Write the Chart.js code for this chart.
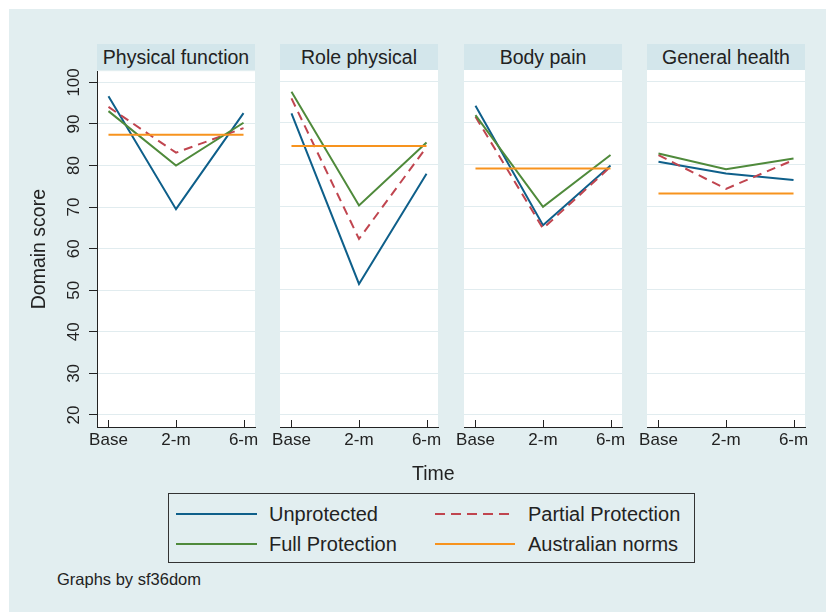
<!DOCTYPE html>
<html>
<head>
<meta charset="utf-8">
<script src="https://cdn.jsdelivr.net/npm/chart.js@4.4.1/dist/chart.umd.min.js"></script>
<style>
  body { margin: 0; background: #fff; font-family: "Liberation Sans", Arial, sans-serif; color: #222; }
  #page { position: absolute; left: 9px; top: 9px; width: 817px; height: 603px; background: #e2eef0; }
  canvas { position: absolute; }
  .strip { position: absolute; top: 44px; height: 26px; line-height: 26px; background: #d3e6eb;
           text-align: center; font-size: 19.5px; }
  .txt { position: absolute; white-space: nowrap; }
  #legend { position: absolute; left: 168px; top: 493px; width: 525px; height: 68px; border: 1px solid #333; }
  .lgline { position: absolute; height: 0; border-top: 2px solid; }
  .lgtxt { position: absolute; font-size: 20px; line-height: 22px; white-space: nowrap; }
</style>
</head>
<body>
<div id="page"></div>

<script>
// ===============================
// DATA
// ===============================
const timeLabels = ["Base", "2-m", "6-m"];
const domains = ["Physical function", "Role physical", "Body pain", "General health"];

// one row per domain: Base, 2-m, 6-m
const unprotected = [[96.7, 69.5, 92.6], [92.3, 51.4, 77.8], [94.1, 65.5, 79.8], [80.7, 77.9, 76.3]];
const partial     = [[94.1, 83.1, 89.0], [95.9, 62.2, 84.2], [91.5, 64.7, 79.5], [82.3, 74.2, 81.1]];
const full        = [[93.1, 80.0, 90.3], [97.5, 70.2, 85.3], [91.9, 69.9, 82.3], [82.7, 78.9, 81.5]];
const norms       = [87.4, 84.5, 79.1, 73.1];

const yTicks = [20, 30, 40, 50, 60, 70, 80, 90, 100];

// ===============================
// STYLE
// ===============================
const colUnprot  = "#0e5f8a";
const colPartial = "#c0454f";
const colFull    = "#4f8a3b";
const colNorms   = "#f7931e";
const gridColor  = "#e1ecef";
const axisColor  = "#222";

const panelLeft = [97, 280, 464, 647];
const panelWidth = 158;
const plotTop = 70, plotBottom = 427;
const canvasTop = 60, xAxisH = 40;

Chart.defaults.font.family = "'Liberation Sans', Arial, sans-serif";
Chart.defaults.color = "#222";

const page = document.getElementById("page");

function place(el, x, y) {
  // page div is offset by 9px
  el.style.left = (x - 9) + "px";
  el.style.top = (y - 9) + "px";
}

// white plot background + inward x ticks
const panelPlugin = {
  id: "panelPlugin",
  beforeDraw(chart) {
    const a = chart.chartArea;
    const ctx = chart.ctx;
    ctx.save();
    ctx.fillStyle = "#fff";
    ctx.fillRect(a.left, a.top, a.right - a.left, a.bottom - a.top);
    ctx.restore();
  },
  afterDraw(chart) {
    const a = chart.chartArea;
    const ctx = chart.ctx;
    const xs = chart.scales.x;
    ctx.save();
    ctx.strokeStyle = axisColor;
    ctx.lineWidth = 1;
    timeLabels.forEach((t, i) => {
      const px = Math.round(xs.getPixelForValue(i)) + 0.5;
      ctx.beginPath();
      ctx.moveTo(px, a.bottom);
      ctx.lineTo(px, a.bottom - 7);
      ctx.stroke();
    });
    ctx.restore();
  }
};

function series(label, vals, color, order, dash) {
  return {
    label: label,
    data: vals.map((v, i) => ({ x: i, y: v })),
    borderColor: color,
    borderWidth: 2,
    borderDash: dash || [],
    pointRadius: 0,
    tension: 0,
    fill: false,
    order: order
  };
}

// ===============================
// PANELS
// ===============================
domains.forEach((dom, p) => {
  const first = p === 0;
  const canvas = document.createElement("canvas");
  const left = first ? 9 : panelLeft[p] - 20;
  const width = first ? panelLeft[p] + panelWidth + 20 - 9 : panelWidth + 40;
  const height = plotBottom - canvasTop + xAxisH;
  canvas.width = width;
  canvas.height = height;
  canvas.style.width = width + "px";
  canvas.style.height = height + "px";
  place(canvas, left, canvasTop);
  page.appendChild(canvas);

  const strip = document.createElement("div");
  strip.className = "strip";
  strip.style.width = panelWidth + "px";
  strip.textContent = dom;
  place(strip, panelLeft[p], 44);
  page.appendChild(strip);

  new Chart(canvas, {
    type: "line",
    data: {
      datasets: [
        series("Unprotected", unprotected[p], colUnprot, 4),
        series("Partial Protection", partial[p], colPartial, 3, [9, 6]),
        series("Full Protection", full[p], colFull, 2),
        series("Australian norms", [norms[p], norms[p], norms[p]], colNorms, 1)
      ]
    },
    options: {
      responsive: false,
      animation: false,
      devicePixelRatio: 1,
      layout: { padding: { top: plotTop - canvasTop, left: first ? 0 : 20, right: 20, bottom: 0 } },
      plugins: { legend: { display: false }, tooltip: { enabled: false } },
      scales: {
        x: {
          type: "linear",
          min: -0.17,
          max: 2.17,
          afterBuildTicks: s => { s.ticks = timeLabels.map((t, i) => ({ value: i })); },
          afterFit: s => { s.height = xAxisH; },
          ticks: { callback: v => timeLabels[v], font: { size: 17 }, padding: 3, maxRotation: 0, minRotation: 0 },
          grid: { drawOnChartArea: false, drawTicks: false },
          border: { display: true, color: axisColor, width: 1 }
        },
        y: {
          min: 17.1,
          max: 102.7,
          afterBuildTicks: s => { s.ticks = yTicks.map(v => ({ value: v })); },
          afterFit: s => { s.width = first ? panelLeft[0] - 9 : 0; },
          ticks: {
            display: first,
            font: { size: 17 },
            padding: 1,
            minRotation: 90,
            maxRotation: 90,
            crossAlign: "center"
          },
          grid: { color: gridColor, lineWidth: 1, drawTicks: first, tickLength: 8, tickColor: axisColor },
          border: { display: first, color: axisColor, width: 1 },
          title: {
            display: first,
            text: "Domain score",
            font: { size: 19.5 },
            padding: { top: 19, bottom: 0 }
          }
        }
      }
    },
    plugins: [panelPlugin]
  });
});

// ===============================
// TEXTS + LEGEND
// ===============================
const xTitle = document.createElement("div");
xTitle.className = "txt";
xTitle.style.fontSize = "19.5px";
xTitle.textContent = "Time";
place(xTitle, 412, 462);
page.appendChild(xTitle);

const note = document.createElement("div");
note.className = "txt";
note.style.fontSize = "16.5px";
note.textContent = "Graphs by sf36dom";
place(note, 57, 570);
page.appendChild(note);

const legend = document.createElement("div");
legend.id = "legend";
place(legend, 168, 493);
page.appendChild(legend);

const legendItems = [
  { label: "Unprotected", color: colUnprot, dash: false, col: 0, row: 0 },
  { label: "Partial Protection", color: colPartial, dash: true, col: 1, row: 0 },
  { label: "Full Protection", color: colFull, dash: false, col: 0, row: 1 },
  { label: "Australian norms", color: colNorms, dash: false, col: 1, row: 1 }
];
const lgLineX = [176, 435], lgLineW = [81, 80], lgTextX = [269, 528], lgRowY = [514, 544];

legendItems.forEach(it => {
  const ln = document.createElement("div");
  ln.className = "lgline";
  ln.style.borderTopColor = it.color;
  ln.style.width = lgLineW[it.col] + "px";
  if (it.dash) {
    ln.style.borderTop = "none";
    ln.style.height = "2px";
    ln.style.background = `repeating-linear-gradient(90deg, ${it.color} 0 10px, transparent 10px 16px)`;
  }
  ln.style.left = (lgLineX[it.col] - 169) + "px";
  ln.style.top = (lgRowY[it.row] - 1 - 494) + "px";
  legend.appendChild(ln);

  const tx = document.createElement("div");
  tx.className = "lgtxt";
  tx.textContent = it.label;
  tx.style.left = (lgTextX[it.col] - 169) + "px";
  tx.style.top = (lgRowY[it.row] - 11 - 494) + "px";
  legend.appendChild(tx);
});
</script>
</body>
</html>
